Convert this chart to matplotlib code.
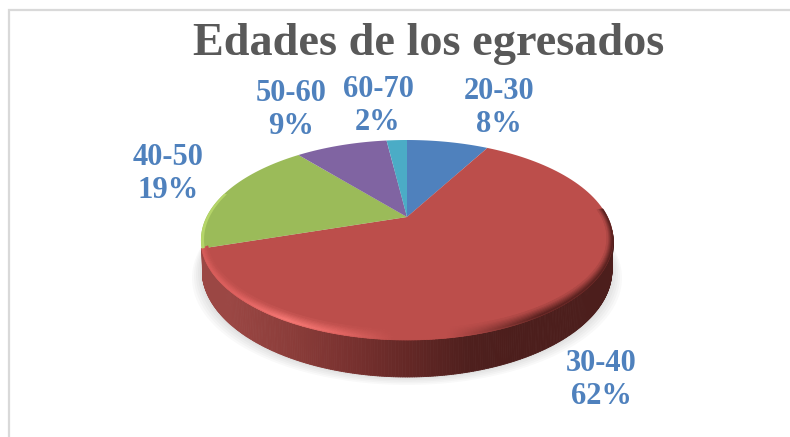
import numpy as np
import matplotlib
matplotlib.use("Agg")
import matplotlib.pyplot as plt
from matplotlib.collections import PolyCollection
from matplotlib.colors import to_rgb

title = "Edades de los egresados"
ages = ["20-30", "30-40", "40-50", "50-60", "60-70"]
percents = [8, 62, 19, 9, 2]
colors = ["#4f81bd", "#bc4e4b", "#9bbb59", "#8064a2", "#4bacc6"]
label_xy = [(499, 108), (601, 380), (168, 174), (291, 110), (378, 106)]

# tilted disc, apex of the slices sits above the middle of the ellipse
cx, cy = 407, 217
a, b, k = 200.5, 94.7, 0.23
mid_y = 240


def project(theta):
    X = np.sin(theta)
    Y = np.cos(theta)
    w = 1 + k * Y
    return cx + a * X / w, cy - b * Y / w


def base(x, y):
    # the bottom of the disc, slightly taller than the top ellipse
    return cx + (x - cx) * 0.995, y + 30 + 0.07 * (y - mid_y)


def mix(c1, c2, t):
    c1 = np.array(to_rgb(c1))
    c2 = np.array(to_rgb(c2))
    return c1 + (c2 - c1) * t


def wall_color(x):
    stops = [205, 228, 295, 345, 405, 470, 520]
    cols = np.array([to_rgb(c) for c in ["#9b4744", "#9b4744", "#8a3c39", "#7a3230", "#652826", "#4e1f1d", "#4c1e1c"]])
    return [np.interp(x, stops, cols[:, j]) for j in range(3)]


def rim_color(x):
    stops = [205, 240, 285, 335, 395, 450, 540]
    cols = np.array([to_rgb(c) for c in ["#d85e5b", "#e26462", "#f87a76", "#e86a67", colors[1], colors[1], "#5a2220"]])
    return [np.interp(x, stops, cols[:, j]) for j in range(3)]


fig = plt.figure(figsize=(7.9, 4.37), dpi=100)
ax = fig.add_axes([0, 0, 1, 1])
ax.set_xlim(0, 790)
ax.set_ylim(437, 0)
ax.axis("off")

# outer frame
ax.plot([9, 9, 790], [437, 10, 10], color="#d9d9d9", lw=1.6, solid_joinstyle="miter")

# soft shadow under the base
t = np.linspace(0, 2 * np.pi, 400)
sx, sy = base(*project(t))
for grow in [10, 8, 6, 4, 2]:
    ax.fill(cx + (sx - cx) * (1 + grow / 205), sy + grow * 0.8,
            color="black", alpha=0.025, lw=0, zorder=1)

# side wall of the big slice
edges = np.cumsum([0] + percents) / 100 * 2 * np.pi
th = np.linspace(np.radians(98), edges[2], 300)
x0, y0 = project(th)
x1, y1 = base(x0, y0)
quads = []
shade = []
for i in range(len(th) - 1):
    quads.append([(x0[i], y0[i]), (x0[i + 1], y0[i + 1]), (x1[i + 1], y1[i + 1]), (x1[i], y1[i])])
    shade.append(wall_color((x0[i] + x0[i + 1]) / 2))
ax.add_collection(PolyCollection(quads, facecolors=shade, edgecolors=shade, linewidths=0.6, zorder=2))

# top slices
for i in range(len(percents)):
    th = np.linspace(edges[i], edges[i + 1], 120)
    x, y = project(th)
    ax.fill(np.r_[cx, x], np.r_[cy, y], color=colors[i], lw=0, zorder=3)

# bevel along the rim of the top, fading inwards
th = np.linspace(np.radians(85), edges[2], 260)
ox, oy = project(th)
n_rings = 8
for j in range(n_rings):
    s0 = 1 - 0.085 * j / n_rings
    s1 = 1 - 0.085 * (j + 1) / n_rings
    ax0 = cx + (ox - cx) * (1 - (1 - s0) * 0.35)
    ay0 = cy + (oy - cy) * s0
    ax1 = cx + (ox - cx) * (1 - (1 - s1) * 0.35)
    ay1 = cy + (oy - cy) * s1
    quads = []
    shade = []
    for i in range(len(th) - 1):
        quads.append([(ax0[i], ay0[i]), (ax0[i + 1], ay0[i + 1]), (ax1[i + 1], ay1[i + 1]), (ax1[i], ay1[i])])
        # darkest at the wall on the right, brightest a little inside on the left
        fade = abs(j - 1) / (n_rings - 1)
        shade.append(mix(rim_color(ox[i]), colors[1], fade))
    ax.add_collection(PolyCollection(quads, facecolors=shade, edgecolors=shade, linewidths=0.5, zorder=4))

# lighter rim on the green slice
th = np.linspace(edges[2], np.radians(285), 80)
ox, oy = project(th)
ax.fill(np.r_[ox, (cx + (ox - cx) * 0.985)[::-1]], np.r_[oy, (cy + (oy - cy) * 0.985)[::-1]],
        color="#b5d569", lw=0, zorder=4)

ax.text(429, 55, title, family="Liberation Serif", weight="bold", size=33.3,
        color="#595959", ha="center", va="baseline", zorder=5)

for i in range(len(ages)):
    ax.text(label_xy[i][0], label_xy[i][1], ages[i] + "\n" + str(percents[i]) + "%",
            family="Liberation Serif", weight="bold", size=22, color="#4f81bd",
            ha="center", va="center", linespacing=1.17, zorder=5)

fig.savefig("out.png", dpi=100)
